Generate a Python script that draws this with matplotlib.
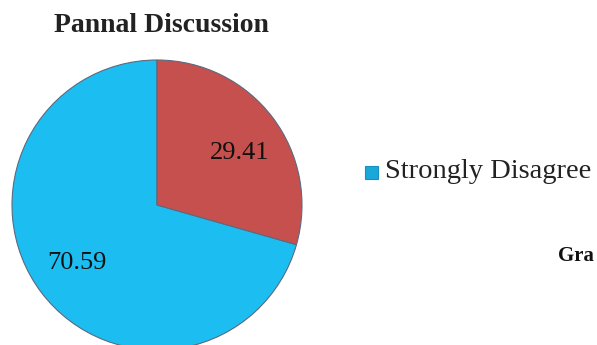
import matplotlib
matplotlib.use("Agg")
import matplotlib.pyplot as plt

title = "Pannal Discussion"
categories = ["Strongly Disagree", "Other"]
values = [70.59, 29.41]
colors = ["#1CBEF2", "#C6504D"]
legend_label = "Strongly Disagree"
side_text = "Gra"

W, H = 597, 345
fig = plt.figure(figsize=(W / 100, H / 100), dpi=100)
ax = fig.add_axes([0, 0, 1, 1])

serif = ["Liberation Serif", "DejaVu Serif"]
cx, cy, r = 157, H - 205, 145

wedges, _ = ax.pie(values, colors=colors, startangle=90, counterclock=True,
                   center=(cx, cy), radius=r,
                   wedgeprops=dict(edgecolor="#5a6a80", linewidth=0.8))
ax.set_xlim(0, W)
ax.set_ylim(0, H)
ax.set_aspect("equal")
ax.axis("off")

# value labels
ax.text(77, H - 263, f"{values[0]:.2f}", fontsize=19, family=serif,
        ha="center", va="center", color="#111111")
ax.text(240, H - 153, f"{values[1]:.2f}", fontsize=19, family=serif,
        ha="center", va="center", color="#111111")

# title
ax.text(161, H - 25, title, fontsize=20, family=serif, weight="bold",
        ha="center", va="center", color="#222222")

# legend
ax.add_patch(plt.Rectangle((365, H - 179), 13, 13, facecolor="#1aa8d8",
                           edgecolor="#1590c0", linewidth=0.8))
ax.text(385, H - 172, legend_label, fontsize=20.5, family=serif,
        ha="left", va="center", color="#222222")

ax.text(558, H - 256, side_text, fontsize=15, family=serif, weight="bold",
        ha="left", va="center", color="#111111")

fig.savefig("out.png", dpi=100)
